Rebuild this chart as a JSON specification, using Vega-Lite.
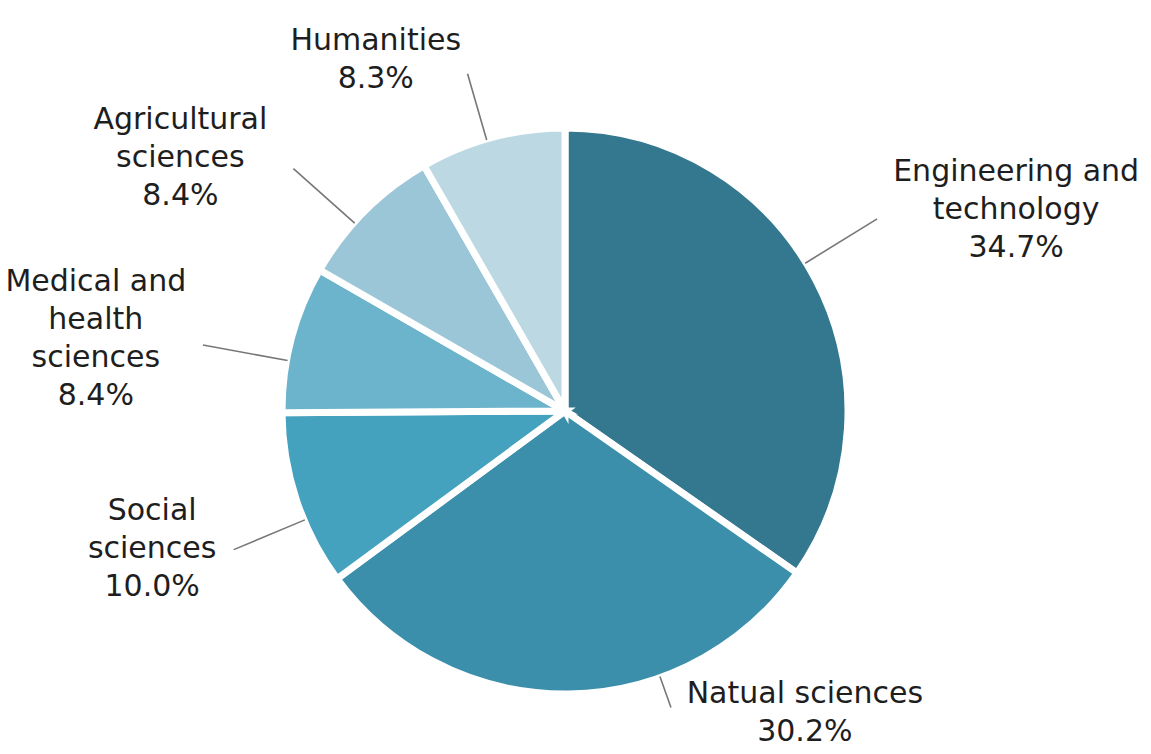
{
  "$schema": "https://vega.github.io/schema/vega-lite/v6.json",
  "width": 1130,
  "height": 686,
  "autosize": {"type": "none"},
  "padding": {"left": 0, "top": 68, "right": 21, "bottom": 0},
  "background": "white",
  "view": {"stroke": null},
  "data": {
    "values": [
      {"category": "Engineering and technology", "name": ["Engineering and", "technology"], "share": 0.347},
      {"category": "Natual sciences", "name": ["Natual sciences"], "share": 0.302},
      {"category": "Social sciences", "name": ["Social", "sciences"], "share": 0.100},
      {"category": "Medical and health sciences", "name": ["Medical and", "health", "sciences"], "share": 0.084},
      {"category": "Agricultural sciences", "name": ["Agricultural", "sciences"], "share": 0.084},
      {"category": "Humanities", "name": ["Humanities"], "share": 0.083}
    ]
  },
  "transform": [
    {"window": [{"op": "row_number", "as": "idx"}]},
    {"stack": "share", "groupby": [], "sort": [{"field": "idx"}], "as": ["v0", "v1"]},
    {"fold": ["v0", "v1"], "as": ["edge", "pos"]},
    {"joinaggregate": [{"op": "mean", "field": "pos", "as": "mid"}], "groupby": ["category"]},
    {"filter": "datum.edge === 'v0'"}
  ],
  "layer": [
    {
      "mark": {"type": "arc", "radius": 283, "stroke": "white", "strokeWidth": 7},
      "encoding": {
        "theta": {"field": "v0", "type": "quantitative", "stack": null, "scale": {"domain": [0, 1]}},
        "theta2": {"field": "v1"},
        "color": {
          "field": "category",
          "type": "nominal",
          "scale": {
            "domain": ["Engineering and technology", "Natual sciences", "Social sciences", "Medical and health sciences", "Agricultural sciences", "Humanities"],
            "range": ["#33788f", "#3b8fab", "#44a2bf", "#6cb4cc", "#9ac6d7", "#bcd9e3"]
          },
          "legend": null
        }
      }
    },
    {
      "mark": {
        "type": "arc",
        "filled": false,
        "stroke": "#777777",
        "strokeWidth": 1.6,
        "radius2": 282,
        "radius": {"expr": "368 - 60*pow(max(0,-cos(2*PI*datum.mid - 0.08*abs(sin(2*PI*datum.mid)) - 0.33*pow(max(0,-cos(2*PI*datum.mid)),8))),2) - 20*pow(max(0,cos(2*PI*datum.mid - 0.08*abs(sin(2*PI*datum.mid)) - 0.33*pow(max(0,-cos(2*PI*datum.mid)),8))),4)"},
        "thetaOffset": {"expr": "-0.08*abs(sin(2*PI*datum.mid)) - 0.33*pow(max(0,-cos(2*PI*datum.mid)),8)"},
        "theta2Offset": {"expr": "-0.08*abs(sin(2*PI*datum.mid)) - 0.33*pow(max(0,-cos(2*PI*datum.mid)),8)"}
      },
      "encoding": {
        "theta": {"field": "mid", "type": "quantitative", "stack": null, "scale": {"domain": [0, 1]}},
        "theta2": {"field": "mid"}
      }
    },
    {
      "mark": {
        "type": "text",
        "font": "DejaVu Sans",
        "fontSize": 30,
        "lineHeight": 38,
        "color": "#1e1e1e",
        "baseline": "top",
        "align": "center",
        "radius": {"expr": "378 - 60*pow(max(0,-cos(2*PI*datum.mid - 0.08*abs(sin(2*PI*datum.mid)) - 0.33*pow(max(0,-cos(2*PI*datum.mid)),8))),2) - 20*pow(max(0,cos(2*PI*datum.mid - 0.08*abs(sin(2*PI*datum.mid)) - 0.33*pow(max(0,-cos(2*PI*datum.mid)),8))),4)"},
        "thetaOffset": {"expr": "-0.08*abs(sin(2*PI*datum.mid)) - 0.33*pow(max(0,-cos(2*PI*datum.mid)),8)"},
        "dx": {"expr": "(datum.mid < 0.5 ? 1 : -1) * (6 + 8.3*max(length(datum.name[0]), length(datum.name[1] || ''), length(datum.name[2] || '')))"},
        "dy": {"expr": "-(length(datum.name)+1)*19"}
      },
      "encoding": {
        "theta": {"field": "mid", "type": "quantitative", "stack": null, "scale": {"domain": [0, 1]}},
        "text": {"field": "name"}
      }
    },
    {
      "mark": {
        "type": "text",
        "font": "DejaVu Sans",
        "fontSize": 30,
        "lineHeight": 38,
        "color": "#1e1e1e",
        "baseline": "top",
        "align": "center",
        "radius": {"expr": "378 - 60*pow(max(0,-cos(2*PI*datum.mid - 0.08*abs(sin(2*PI*datum.mid)) - 0.33*pow(max(0,-cos(2*PI*datum.mid)),8))),2) - 20*pow(max(0,cos(2*PI*datum.mid - 0.08*abs(sin(2*PI*datum.mid)) - 0.33*pow(max(0,-cos(2*PI*datum.mid)),8))),4)"},
        "thetaOffset": {"expr": "-0.08*abs(sin(2*PI*datum.mid)) - 0.33*pow(max(0,-cos(2*PI*datum.mid)),8)"},
        "dx": {"expr": "(datum.mid < 0.5 ? 1 : -1) * (6 + 8.3*max(length(datum.name[0]), length(datum.name[1] || ''), length(datum.name[2] || '')))"},
        "dy": {"expr": "-(length(datum.name)+1)*19 + length(datum.name)*38"}
      },
      "encoding": {
        "theta": {"field": "mid", "type": "quantitative", "stack": null, "scale": {"domain": [0, 1]}},
        "text": {"field": "share", "type": "quantitative", "format": ".1%"}
      }
    }
  ]
}
